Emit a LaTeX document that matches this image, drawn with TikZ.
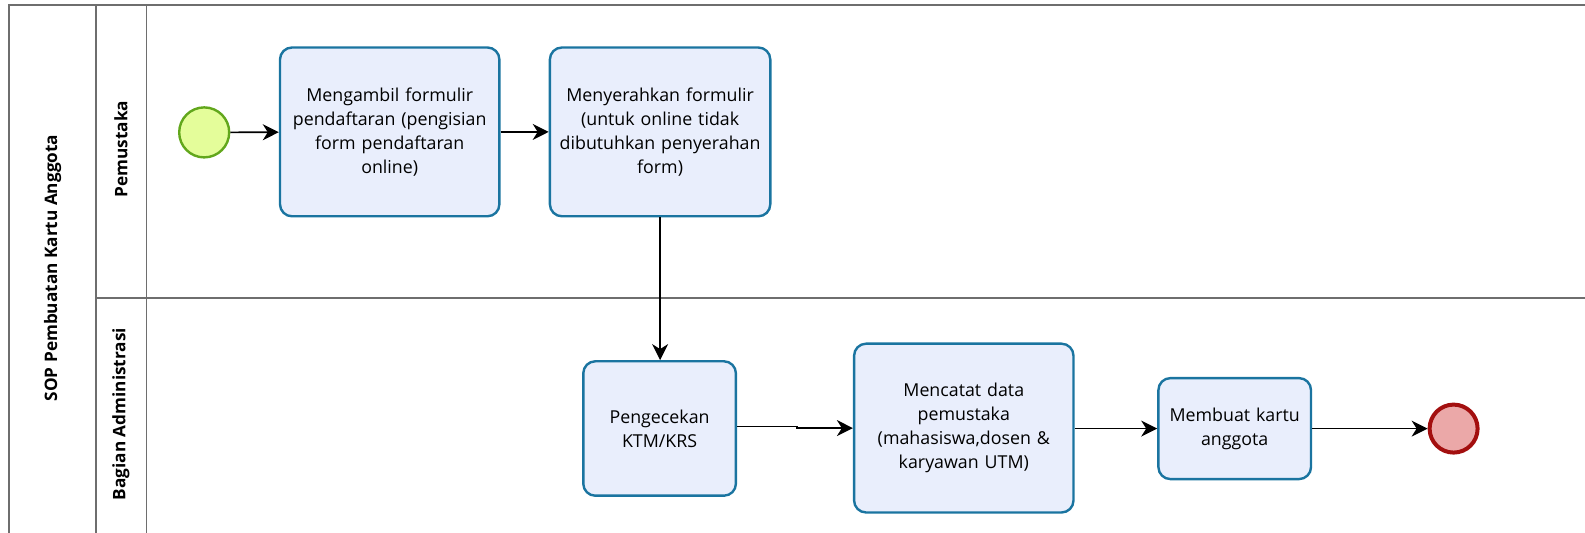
\documentclass[tikz,border=0pt]{standalone}
\usepackage{fontspec}
\setmainfont{Open Sans}
\usetikzlibrary{arrows.meta,positioning}
\definecolor{taskfill}{HTML}{E9EEFC}
\definecolor{taskdraw}{HTML}{1A74A0}
\definecolor{startfill}{HTML}{E4FD9A}
\definecolor{startdraw}{HTML}{62A71C}
\definecolor{endfill}{HTML}{EBA8A8}
\definecolor{enddraw}{HTML}{A30F0F}
\definecolor{poolline}{HTML}{6E6E6E}
\tikzset{
  task/.style={draw=taskdraw, fill=taskfill, line width=1.2pt, rounded corners=6pt,
    align=center, inner sep=2pt, font=\fontsize{8.9}{12}\selectfont},
  startev/.style={circle, draw=startdraw, fill=startfill, line width=1.2pt, minimum size=25pt, inner sep=0pt},
  endev/.style={circle, draw=enddraw, fill=endfill, line width=2pt, minimum size=24pt, inner sep=0pt},
  arr/.style={draw=black, line width=0.8pt, -{Stealth[length=8pt,width=8pt,inset=2.5pt]}},
  pool/.style={draw=poolline, line width=0.8pt},
  lanelabel/.style={rotate=90, font=\bfseries\fontsize{8.6}{10}\selectfont},
}
\begin{document}
\begin{tikzpicture}[x=0.5pt,y=-0.5pt]
\useasboundingbox (0,0) rectangle (1585,533);
% pool and lanes
\draw[pool] (1585,5) -- (9,5) -- (9,533);
\draw[pool] (96,5) -- (96,533);
\draw[pool] (146.6,5) -- (146.6,533);
\draw[pool] (96,298) -- (1585,298);
\node[lanelabel] (title) at (52.6,268) {SOP Pembuatan Kartu Anggota};
\node[lanelabel] (lane1) at (121,149) {Pemustaka};
\node[lanelabel] (lane2) at (121,414) {Bagian Administrasi};
% events and tasks
\node[startev] (start) at (204.2,132.4) {};
\node[task, minimum width=109.7pt, minimum height=84.4pt, text width=104pt] (t1) at (389.7,131.9)
  {Mengambil formulir\\ pendaftaran (pengisian\\ form pendaftaran\\ online)};
\node[task, minimum width=110.2pt, minimum height=84.4pt, text width=106pt] (t2) at (660.1,131.9)
  {Menyerahkan formulir\\ (untuk online tidak\\ dibutuhkan penyerahan\\ form)};
\node[task, minimum width=76.3pt, minimum height=67.2pt, text width=70pt] (t3) at (659.6,428.5)
  {Pengecekan\\ KTM/KRS};
\node[task, minimum width=109.7pt, minimum height=84.4pt, text width=104pt] (t4) at (963.8,428.1)
  {Mencatat data\\ pemustaka\\ (mahasiswa,dosen \&\\ karyawan UTM)};
\node[task, minimum width=76.3pt, minimum height=50.5pt, text width=70pt] (t5) at (1234.7,428.6)
  {Membuat kartu\\ anggota};
\node[endev] (end) at (1453.6,428.6) {};
% flows
\draw[arr] (start) -- (t1);
\draw[arr] (t1) -- (t2);
\draw[arr] (t2.south) -- (t2.south |- t3.north);
\draw[arr] ([yshift=1pt]t3.east) -- ++(60,0) |- (t4.west);
\draw[arr] (t4.east |- t5.west) -- (t5.west);
\draw[arr] (t5) -- (end);
\end{tikzpicture}
\end{document}
